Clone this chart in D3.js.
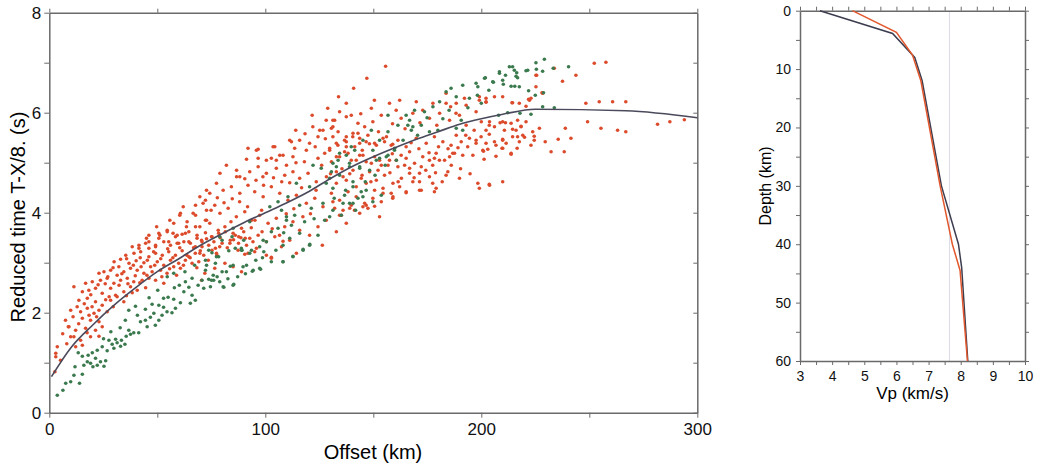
<!DOCTYPE html>
<html>
<head>
<meta charset="utf-8">
<script src="https://cdn.jsdelivr.net/npm/d3@7"></script>
<style>
  body { margin: 0; background: #fff; }
  svg { display: block; font-family: "Liberation Sans", Arial, Helvetica, sans-serif; }
  .frame path.domain { stroke: #6a6a6a; stroke-width: 1.5; }
  .frame line { stroke: #6a6a6a; stroke-width: 1; }
  .frame text { fill: #111; }
</style>
</head>
<body>
<svg width="1042" height="465"></svg>
<script>
// travel time picks, [offset km, reduced time s]
const redPts = [
  [46.1,3.55],[50.7,3.59],[54.6,3.62],[58.4,3.52],[61.5,3.57],[64.6,3.62],[68.4,3.55],[72.3,3.6],[75.3,3.52],[78.4,3.59],[81.5,3.62],[86.1,3.55],[90,3.62],[90.7,3.49],
  [38.4,3.32],[41.5,3.35],[44.6,3.39],[46.1,3.29],[49.2,3.35],[53,3.42],[56.1,3.35],[59.2,3.39],[62.3,3.42],[65.3,3.39],[67.6,3.32],[70.7,3.42],[73.8,3.35],[76.9,3.29],[80,3.39],[83.8,3.45],[87.6,3.39],
  [35.4,3.15],[39.2,3.19],[42.3,3.22],[46.1,3.12],[49.2,3.19],[52.3,3.15],[55.3,3.22],[58.4,3.15],[61.5,3.24],[64.6,3.12],[67.6,3.19],[71.5,3.15],[75.3,3.25],[77.6,3.15],
  [30,3.02],[33,3.07],[36.9,2.99],[40.2,3.04],[43.8,3.0],[46.9,2.92],[50,3.02],[53,2.95],[56.1,3.05],[59.9,2.99],[63,3.05],[66.1,2.99],[69.2,3.02],
  [23,2.79],[25.3,2.82],[28.4,2.85],[31.4,2.75],[34.5,2.82],[37.6,2.89],[40.7,2.85],[43.8,2.79],[47.6,2.82],[51.5,2.85],[54.5,2.79],[57.6,2.92],[60.7,2.89],
  [16.8,2.59],[19.9,2.62],[23.7,2.65],[26.8,2.69],[29.9,2.59],[33,2.65],[36.1,2.69],[39.1,2.62],[43,2.65],[46.1,2.69],[49.2,2.65],[53,2.59],
  [11.4,2.52],[15.3,2.42],[18.3,2.45],[21.4,2.49],[24.5,2.39],[28.4,2.49],[30.7,2.35],[34.5,2.42],[37.6,2.52],[40.7,2.45],
  [13.7,2.25],[17.6,2.29],[21.4,2.22],[24.5,2.15],[28.4,2.25],[31.4,2.32],[34.5,2.22],
  [9.9,2.05],[14.5,2.02],[17.6,2.09],[20.7,1.99],[23,2.05],[26.8,2.02],
  [15.3,1.89],[19.1,1.85],[23,1.82],[9.1,1.72],[12.2,1.65],[16.8,1.69],[21.4,1.65],[24.5,1.72],
  [9.9,1.52],[11.4,1.52],[14.5,1.45],[19.1,1.52],[23,1.53],
  [3,1.19],[3.7,1.32],[3,1.12],[12.2,1.32],[15.3,1.35],[2.6,0.82],[8.8,1.72],
  [104.4,5.32],[111.3,5.45],[113.6,5.29],[96.7,5.27],[91.3,5.07],[106.7,5.15],[102.8,5.09],[120.5,5.39],[127.5,5.19],[129.8,5.29],[133.6,5.35],[137.5,5.42],[141.4,5.32],[143.7,5.39],
  [146.7,5.42],[151.4,5.35],[155.2,5.42],[159,5.37],[124.4,5.09],[130.6,5.02],[134.4,5.12],[138.3,5.19],[142.1,5.05],[145.2,5.15],[149.1,4.99],[152.9,5.05],[156.8,4.95],[160.6,5.05],
  [82,4.95],[86.7,4.85],[92.8,4.82],[96.7,4.92],[100.5,4.79],[105.1,4.89],[109,4.75],[112.8,4.82],[115.9,4.69],[119.8,4.79],[123.6,4.62],[128.3,4.72],[132.9,4.59],[137.5,4.65],
  [142.1,4.52],[146.7,4.59],[150.6,4.45],[154.5,4.49],[158.3,4.39],[162.2,4.52],
  [77.4,4.59],[80.5,4.45],[74.3,4.39],[84.3,4.52],[88.2,4.39],[92,4.55],[95.1,4.42],[99,4.32],[102.8,4.52],[106.7,4.39],[110.5,4.25],[114.4,4.35],[119,4.19],[122.9,4.29],
  [126.7,4.12],[131.3,4.22],[136,4.05],[139.8,4.15],[143.7,3.99],[147.5,4.09],[152.9,3.92],
  [71.2,4.19],[72.8,4.05],[76.6,4.15],[79,3.99],[82.8,4.09],[86.6,3.92],[90.5,4.02],[93.6,3.85],[97.4,3.95],[101.3,3.79],[105.1,3.89],[109,3.72],[112.8,3.82],[115.9,3.65],
  [120.5,3.55],[124.4,3.72],[128.2,3.85],[132.9,3.62],[137.5,3.79],
  [69.7,3.72],[74.3,3.79],[78.2,3.65],[81.3,3.72],[85.1,3.59],[89,3.69],[92.8,3.49],[96.7,3.55],[100.5,3.42],[104.4,3.52],[107.5,3.32],[111.3,3.45],[114.4,3.19],
  [70.5,3.45],[75.1,3.52],[78.9,3.32],[83.6,3.39],[87.4,3.25],[92,3.19],[95.9,3.29],[100.5,3.15],[102.8,3.09],
  [69.7,3.19],[73.6,3.05],[77.4,3.19],[81.3,2.99],[85.1,2.92],[72,2.79],[76.6,2.89],[89,2.82],[70.5,2.65],
  [92,5.29],[96.7,5.09],[86.7,4.72],[79,4.79],[72.8,4.45],
  [155.7,6.93],[147,6.69],[140.9,6.49],[137.5,6.19],[134.4,6.02],[149.1,6.09],[157.5,6.19],[162.2,6.25],[169.9,6.22],[177.6,6.19],[183.7,6.39],[192.2,6.29],[199.1,6.32],[202.2,6.22],
  [214.2,6.2],[222.3,6.25],[183.7,6.19],[188.4,6.19],[197.6,6.02],[130.6,5.69],
  [132.1,5.85],[139.8,5.95],[142.9,5.79],[146,5.72],[149.8,5.82],[153.7,5.95],[160.6,6.05],[162.9,5.89],[168.3,5.99],[172.9,6.05],[176,5.89],[180.7,5.99],[185.3,5.85],[189.9,5.95],
  [193,5.75],[203.8,5.82],[209.9,5.82],[213.8,5.79],[218.4,5.72],[220.7,5.82],[216.1,5.65],[210.7,5.65],[206.1,5.72],[202.2,5.65],
  [131.3,5.52],[133.7,5.62],[136.7,5.45],[140.6,5.59],[143.7,5.49],[147.5,5.55],[150.6,5.39],[154.5,5.49],[158.3,5.35],[161.4,5.45],[165.2,5.32],[169.9,5.49],[174.5,5.39],[178.3,5.52],
  [182.2,5.42],[186,5.35],[188.4,5.55],[190.7,5.42],[194.5,5.49],[197.6,5.39],[199.9,5.52],[206.1,5.42],[211.5,5.39],[217.6,5.42],
  [129.8,5.25],[132.9,5.12],[136.7,5.22],[139.8,5.05],[143.7,5.15],[146.7,5.02],[150.6,5.12],[153.7,4.95],[157.5,5.05],[161.4,4.92],[165.2,5.09],[169.1,4.99],[172.9,5.12],[176,5.05],
  [179.1,5.19],[183,5.05],[186.8,5.19],[191.4,5.15],[196.1,5.15],[200.7,5.25],[209.9,5.29],[213.8,5.19],[166.8,5.22],
  [132.9,4.82],[136,4.72],[140.6,4.85],[144.4,4.69],[148.3,4.82],[151.4,4.65],[155.2,4.75],[159.1,4.59],[163,4.69],[166.8,4.79],[171.4,4.62],[176,4.72],[179.1,4.49],[183.7,4.75],
  [189.9,4.69],[198.4,4.59],[203.8,4.55],[209.9,4.62],[199.1,4.49],
  [134.4,4.25],[138.3,4.42],[142.1,4.32],[146,4.19],[149.8,4.29],[154.5,4.39],[159.1,4.32],[165.2,4.42],[171.4,4.45],[135.2,3.95],[139.1,4.09],[145.2,4.12],[132.1,4.09],[178.3,4.42],[130.6,4.39],
  [203.7,4.57],[185.3,5.12],[178.3,5.09],[184.5,4.82],[177.5,4.59],[172.2,4.45],[165.2,4.4],[159,4.29],[153.7,4.22],[150.6,4.13],[146.7,4.15],[141.3,4.05],[134.4,3.95],
  [168.3,4.62],[171.4,4.79],[166.8,4.89],[172.2,4.92],[177.5,4.95],[180.6,5.05],[187.6,5.19],[193.7,5.32],[197.6,5.45],[202.2,5.39],[206.8,5.35],[209.9,5.45],[214.5,5.52],[219.2,5.55],
  [223.8,5.62],[226.9,5.69],[232.3,5.22],[238.4,5.22],[241.5,5.49],[238.9,5.69],[248.4,6.19],[254.6,6.22],[260.8,6.22],[266.9,6.22],[249.2,5.82],[255.4,5.69],[263.1,5.65],[266.9,5.62],
  [252.3,6.99],[257.7,7.01],[243.8,6.75],[237.6,6.63],[233.8,6.89],[223,6.29],[225.3,6.52],[228.4,6.39],[225.3,6.75],[209.9,6.32],[206.1,6.32],[202.2,6.29],[199.1,6.25],[193,6.15],
  [217.6,6.19],[220.7,6.13],[188.3,5.99],[281.6,5.77],[287.3,5.82],[294,5.86],
  [235.6,5.47],[229.6,5.42],[224.5,5.45],[223,5.35],[220,5.51],[218.4,5.73],[216.8,5.85],[214.5,5.67],[211.2,5.8],[208.7,5.8],[203.7,5.75],[200,5.82],[203.7,5.57],[209.9,5.47],
  [216.8,5.52],[224.5,5.53],[216.6,5.29],[213.8,5.17],[209.6,5.29],[206.8,5.13],[203,5.27],[201,5.23],[201.3,5.07],[214.5,6.2],[202.2,6.21],[221.9,6.27],[225.6,6.75],[228.1,6.4],
  [124.4,5.52],[115.9,5.45],[95.9,5.25],[103.6,5.32],[112.8,5.12],[131.3,5.85],[122,5.72],[126.7,5.65],[137.5,5.52],[88.2,4.72],[69.7,4.32],[62,4.12],[60.4,3.95],[51.2,3.55],
  [98.9,4.72],[105.1,5.05],[66.6,3.99],[55.8,3.85],[49.7,3.72],[57.3,3.59],[63.5,3.72],[72.8,3.85],[45,3.49],
  [67.7,4.15],[72.3,4.25],[67.7,3.95],[60.7,3.99],[63.8,3.82],[57.6,3.79],[67.7,3.72],[72.3,3.85],[54.6,3.65],[50.7,3.49],[46.1,3.42],[41.5,3.29],[59.2,3.55],[63,3.59],
  [68.4,3.49],[55.3,3.42],[59.9,3.39],[64.6,3.42],[49.2,3.32],[70.7,3.32],
  [102.8,3.11],[91.3,3.35],[90.5,3.17],[95.1,3.22],[126.4,3.35],[108.2,3.43],
  [137.5,5.92],[128.2,5.85],[131.3,5.72],[125.2,5.65],[112.1,5.42],[140.5,5.52],[142.9,5.59],[132.9,5.39],[137.5,5.32],[108.2,5.15],[100.5,5.05],[119,5.25],
  [32.2,2.92],[35.8,3.08],[38.9,2.95],[42.1,3.1],[45.4,3.05],[48.3,3.22],[51.6,3.08],[54.8,3.28],[57.2,3.1],[60.4,3.3],[63.7,3.15],[66.8,3.3],[69.9,3.24],[72.8,3.48],
  [76.2,3.42],[79.1,3.5],[82.4,3.3],[85.3,3.46],[88.7,3.5],[27.1,2.72],[29.5,2.9],[33.6,2.78],[36.4,2.58],[39.8,2.74],[42.5,2.92],[45.2,2.75],[48.8,2.95],[52.1,2.72],
  [55.7,2.88],[58.9,2.75],[62.1,2.95],[65.2,3.1],[68.3,2.9],[19.2,2.36],[22.6,2.56],[25.9,2.58],[27.7,2.32],[32.3,2.55],[35.7,2.34],[38.4,2.4],[41.9,2.6],[44.6,2.5],
  [12.9,2.12],[16.2,2.18],[19.8,2.12],[26.1,2.26],[29.6,2.12],[7.5,1.85],[11,1.92],[13.6,1.78],[18.4,1.95],[21.9,1.92],[6.2,1.58],[8.1,1.38],[17.5,1.6],[5.2,1.05],
  [93.5,3.7],[95.2,3.85],[98.3,4.05],[91.8,4.12],[88.1,4.22],[84.7,4.28],[80.9,4.2],[77.8,4.3],[74.9,4.05],[84.1,3.82],[87.7,3.52],[94.3,3.42],[98.5,3.62],[103.2,3.68],
  [106.6,3.55],[109.7,3.98],[113.2,4.08],[117.4,3.92],[120.9,3.98],[123.5,4.45],[116.8,4.5],[111.3,4.6],[107.6,4.62],[103.8,4.7],[99.2,4.55],[95.7,4.65],[90.5,4.68],[118.1,5.02],
  [114.2,5.0],[109.8,4.95],[126.1,4.95],[130.2,4.78],[135.5,4.88],[139.1,4.78],[144.8,4.75],[148.9,4.62],[152.2,4.85],[157.7,4.8],[161.5,4.62],[164.5,4.95],[168.9,4.7],[174.3,4.85],
  [178.8,4.8],[181.9,4.62],[186.1,4.95],[190.4,4.88],[194.8,4.78],[158.8,5.18],[162.9,5.15],[167.5,5.4],[171.1,5.28],[175.8,5.2],[180.2,5.32],[184.6,5.28],[189.2,5.3],[192.8,5.55],
  [196.7,5.65],[148.2,5.38],[144.9,5.25],[152.4,5.62],[156.1,5.52],[127.8,5.48],[123.1,5.32],[118.4,5.58],[114.1,5.65],[121.7,5.95],[128.9,6.09],[185.8,6.12],[179.4,5.75],[171.6,5.8],
  [164.7,5.68],[158.9,5.78],[144.2,5.98],[150.5,6.25],[133.9,6.32]
];

const greenPts = [
  [3.7,0.35],[6.3,0.45],[7.6,0.59],[9.9,0.62],[14,0.59],[11.4,0.75],[15.3,0.77],[11.9,0.92],[16,0.95],[17.6,1.02],[19.1,0.99],[20.2,0.92],[22.2,0.95],[23.7,1.02],
  [25.3,0.93],[26.1,1.04],[21.4,1.09],[18,1.15],[15.3,1.13],[13.4,1.2],[19.9,1.2],[22.2,1.25],[24.5,1.32],[26.8,1.24],[29.9,1.29],[29.1,1.37],[31.4,1.4],[33,1.33],
  [27.6,1.45],[30.7,1.47],[33.4,1.45],[35,1.37],[35.6,1.53],[37.6,1.57],[39.1,1.6],[41.4,1.6],[36.8,1.65],[42.2,1.82],[44.5,1.85],[46.8,1.91],[45.3,1.72],[49.1,1.75],
  [50.7,1.85],[48.4,1.99],[52.2,1.95],[54.5,2.02],[56.8,2.0],[58.4,2.09],[52.9,2.11],[50.7,2.15],[47.6,2.17],[44.5,2.07],[36.8,2.05],[39.9,2.13],[52.9,2.29],[55,2.31],
  [57.6,2.27],[60.7,2.2],[65.3,2.19],[67.6,2.25],[66.1,2.35],[62.3,2.42],[71.5,2.49],[64.6,2.51],[63,2.62],[66.1,2.69],[70.7,2.65],[73.8,2.67],[76.1,2.65],[77.7,2.72],
  [80,2.82],[83.8,2.93],[80.8,2.51],[85.4,2.57],[57.6,2.79],[54.6,2.72],[72.3,2.85],[76.9,2.99],[72.3,3.05],[78.4,3.12],[83.1,3.24],[86.1,3.29],[89.2,3.25],[90,3.45],
  [80,3.45],[84.6,3.52],[75.3,3.2],[73.8,3.25],
  [72.8,2.95],[77.4,3.12],[80.5,2.52],[85.1,2.55],[75.1,2.65],[75.9,2.75],[82,2.82],[85.1,2.95],[89.7,2.92],[94.4,2.85],[97.4,2.89],[89,3.25],[93.6,3.25],[100.5,3.42],
  [99,3.45],[108.2,3.02],[112.8,3.12],[117.5,3.25],[120.5,3.35],[124.4,3.55],[111.3,3.49],[115.9,3.59],[102.8,3.62],[105.9,3.69],[109.8,3.85],[113.6,3.95],[107.5,4.05],
  [102.1,4.12],[105.9,4.22],[110.5,4.32],[115.9,4.15],[121.3,4.09],[126.7,4.19],[131.3,4.05],[135.2,3.95],[139,4.19],[142.9,4.29],[149.8,4.22],[153.7,4.35],[146.7,4.45],
  [140.6,4.62],[134.4,4.75],[130.6,4.82],[125.9,4.89],[122.1,4.95],[139,4.99],[143.7,4.92],[148.3,4.85],[152.9,5.09],[156.8,5.15],[159.8,5.25],[134.4,5.19],[139.8,5.32],
  [128.2,4.59],[120.5,4.52],[114.4,4.59],[109.8,3.92],[92.8,3.82],[85.1,3.69],[78.9,3.52],
  [186,6.49],[188.4,6.32],[191.4,6.55],[183.7,6.42],[194.5,6.29],[197.6,6.59],[198.4,6.52],[201.5,6.69],[205.3,6.62],[208.4,6.79],[209.9,6.65],[213,6.92],[215.3,6.85],
  [216.1,6.73],[213.8,6.53],[217.6,6.52],[221.5,6.85],[180.7,6.22],[177.6,6.12],[173.7,6.02],[169.1,6.05],[165.2,5.95],[166.8,5.85],[167.6,5.65],[168.3,5.72],[166,5.75],
  [172.2,5.75],[176,5.62],[179.9,5.65],[161.4,5.75],[156.8,5.95],[156.8,5.62],[152.9,5.45],[149.1,5.65],[145.2,5.45],[141.4,5.25],[137.5,5.15],[133.7,5.05],[132.9,4.92],
  [139,4.92],[143.7,4.89],[151.4,5.05],[156,5.12],[159.9,5.29],[149.8,5.25],[129.8,4.69],[131.3,4.49],[136.7,4.35],[140.6,4.52],[144.4,4.42],[136,4.19],[140.6,4.19],
  [145.2,4.32],[129.8,3.92],[188.4,5.69],[191.4,5.65],[190.7,5.85],[131.3,4.99],
  [201.9,6.7],[205.6,6.61],[208.4,6.82],[211.2,6.75],[210.2,6.57],[214.5,6.92],[216.4,6.8],[216.8,6.7],[215.5,6.53],[220.7,6.84],[225.3,7.0],[229.2,7.07],[228.4,6.83],
  [225.5,6.87],[233.3,6.89],[240.4,6.92],[221.9,6.44],[225,6.35],[228.8,6.4],[228.4,6.12],[233.8,6.1],[223,5.97],[217.9,5.99],[212.2,6.0],[208,5.95],[200,6.19],
  [88.9,3.29],[92.8,3.19],[91.3,2.95],[94,2.83],[97.8,2.87],[102.8,3.02],[108.2,3.02],[112.8,3.13],[117.5,3.27],[120.6,3.37],[99.3,3.22],[97.4,3.32],[108.2,3.35],
  [60.2,2.55],[68.9,2.55],[74.6,2.52],[78.9,2.62],[82.7,2.68],[87.2,2.72],[90.8,2.78],[95.6,3.05],[98.7,3.1],[104.9,3.25],[108.5,3.6],[112.1,3.75],[118.2,3.82],
  [122.6,3.88],[127.5,3.85],[131.9,4.29],[137.2,4.45],[141.8,4.05],[146.3,4.62],[150.8,4.75],[155.5,4.95],[160.7,5.05],[163.8,5.45],[170.5,5.55],[174.9,5.9],[182.2,5.88],
  [185.1,6.05],[193.8,6.1],[198.2,6.35],[203.5,6.45],[35.2,1.85],[40.8,1.95],[46.2,2.3],[50.2,2.45],[57.9,2.5],[62.8,2.82],[67.3,2.95],[28.5,1.62],[32.8,1.7],[25.1,1.48]
];

// model travel time curve
const curveOffset = [1, 10, 20, 30, 40, 50, 60, 70, 80, 90, 100, 110, 120, 130, 140, 150, 160, 170, 180, 190, 200, 210, 225, 267, 300];
const curveTime = [0.72, 1.3, 1.75, 2.15, 2.5, 2.82, 3.08, 3.35, 3.58, 3.8, 4.0, 4.2, 4.42, 4.68, 4.92, 5.12, 5.3, 5.47, 5.62, 5.77, 5.88, 5.97, 6.07, 6.04, 5.9];

// velocity-depth models
const depthDark = [0, 3.9, 8, 12, 30, 40, 44, 60];
const vpDark = [3.62, 5.88, 6.57, 6.8, 7.4, 7.93, 8.03, 8.22];
const depthOrange = [0, 3.7, 7.6, 12, 30, 40, 44.5, 60];
const vpOrange = [4.63, 6.0, 6.5, 6.76, 7.36, 7.74, 7.98, 8.21];
const refVp = 7.65;

const offsetTicks = d3.range(0, 301, 50);
const timeTicks = d3.range(0, 9, 1);
const vpTicks = d3.range(3, 10.01, 0.5);
const depthTicks = d3.range(0, 61, 5);

const svg = d3.select("svg");

const drawTimeChart = () => {
  const x = d3.scaleLinear().domain([0, 300]).range([49.3, 697.3]);
  const y = d3.scaleLinear().domain([0, 8]).range([412.7, 12.7]);
  const g = svg.append("g");

  g.append("g")
      .attr("class", "frame")
      .attr("transform", `translate(0,${y(0)})`)
      .call(d3.axisBottom(x).tickValues(offsetTicks).tickSize(5).tickSizeOuter(0).tickPadding(5)
        .tickFormat(d => d % 100 === 0 ? d : ""))
      .attr("font-size", 17)
      .attr("font-family", null)
  ;
  g.append("g")
      .attr("class", "frame")
      .attr("transform", `translate(${x(0)},0)`)
      .call(d3.axisLeft(y).tickValues(timeTicks).tickSize(5).tickSizeOuter(0).tickPadding(3)
        .tickFormat(d => d % 2 === 0 ? d : ""))
      .attr("font-size", 17)
      .attr("font-family", null)
  ;
  g.append("g")
      .attr("class", "frame")
      .attr("transform", `translate(0,${y(8)})`)
      .call(d3.axisTop(x).tickValues(offsetTicks).tickSize(4).tickSizeOuter(0).tickFormat(""))
  ;
  g.append("g")
      .attr("class", "frame")
      .attr("transform", `translate(${x(300)},0)`)
      .call(d3.axisRight(y).tickValues(timeTicks).tickSize(-4).tickSizeOuter(0).tickFormat(""))
  ;

  g.append("g")
      .selectAll("circle")
      .data(redPts)
      .enter()
      .append("circle")
      .attr("cx", d => x(d[0]))
      .attr("cy", d => y(d[1]))
      .attr("r", 1.8)
      .attr("fill", "#dc4b2b")
  ;
  g.append("g")
      .selectAll("circle")
      .data(greenPts)
      .enter()
      .append("circle")
      .attr("cx", d => x(d[0]))
      .attr("cy", d => y(d[1]))
      .attr("r", 1.8)
      .attr("fill", "#3b7a4e")
  ;

  const line = d3.line()
      .x(d => x(d[0]))
      .y(d => y(d[1]))
      .curve(d3.curveMonotoneX);
  g.append("path")
      .datum(curveOffset.map((o, i) => [o, curveTime[i]]))
      .attr("d", line)
      .attr("fill", "none")
      .attr("stroke", "#4a4a5c")
      .attr("stroke-width", 1.6)
  ;

  g.append("text")
      .attr("x", 373)
      .attr("y", 459)
      .attr("text-anchor", "middle")
      .attr("font-size", 20)
      .text("Offset (km)")
  ;
  g.append("text")
      .attr("transform", "translate(25,217) rotate(-90)")
      .attr("text-anchor", "middle")
      .attr("font-size", 20)
      .text("Reduced time T-X/8. (s)")
  ;
};

const drawVelocityChart = () => {
  const x = d3.scaleLinear().domain([3, 10]).range([800, 1025]);
  const y = d3.scaleLinear().domain([0, 60]).range([10.7, 361]);
  const g = svg.append("g");

  g.append("line")
      .attr("x1", x(refVp)).attr("x2", x(refVp))
      .attr("y1", y(0)).attr("y2", y(60))
      .attr("stroke", "#dcdcea")
      .attr("stroke-width", 1)
  ;

  g.append("g")
      .attr("class", "frame")
      .attr("transform", `translate(0,${y(60)})`)
      .call(d3.axisBottom(x).tickValues(vpTicks).tickSize(4).tickSizeOuter(0).tickPadding(6)
        .tickFormat(d => Number.isInteger(d) ? d : ""))
      .attr("font-size", 14)
      .attr("font-family", null)
  ;
  g.append("g")
      .attr("class", "frame")
      .attr("transform", `translate(${x(3)},0)`)
      .call(d3.axisLeft(y).tickValues(depthTicks).tickSize(4).tickSizeOuter(0).tickPadding(5)
        .tickFormat(d => d % 10 === 0 ? d : ""))
      .attr("font-size", 14)
      .attr("font-family", null)
  ;
  g.append("g")
      .attr("class", "frame")
      .attr("transform", `translate(0,${y(0)})`)
      .call(d3.axisTop(x).tickValues(vpTicks).tickSize(4).tickSizeOuter(0).tickFormat(""))
  ;
  g.append("g")
      .attr("class", "frame")
      .attr("transform", `translate(${x(10)},0)`)
      .call(d3.axisRight(y).tickValues(depthTicks).tickSize(4).tickSizeOuter(0).tickFormat(""))
  ;

  const line = d3.line()
      .x(d => x(d[0]))
      .y(d => y(d[1]));
  g.append("path")
      .datum(vpDark.map((v, i) => [v, depthDark[i]]))
      .attr("d", line)
      .attr("fill", "none")
      .attr("stroke", "#3d3d50")
      .attr("stroke-width", 1.5)
  ;
  g.append("path")
      .datum(vpOrange.map((v, i) => [v, depthOrange[i]]))
      .attr("d", line)
      .attr("fill", "none")
      .attr("stroke", "#e2572c")
      .attr("stroke-width", 1.5)
  ;

  g.append("text")
      .attr("x", 912.5)
      .attr("y", 399)
      .attr("text-anchor", "middle")
      .attr("font-size", 17)
      .text("Vp (km/s)")
  ;
  g.append("text")
      .attr("transform", "translate(771,186) rotate(-90)")
      .attr("text-anchor", "middle")
      .attr("font-size", 16)
      .text("Depth (km)")
  ;
};

(() => {
  drawTimeChart();
  drawVelocityChart();
})();
</script>
</body>
</html>
